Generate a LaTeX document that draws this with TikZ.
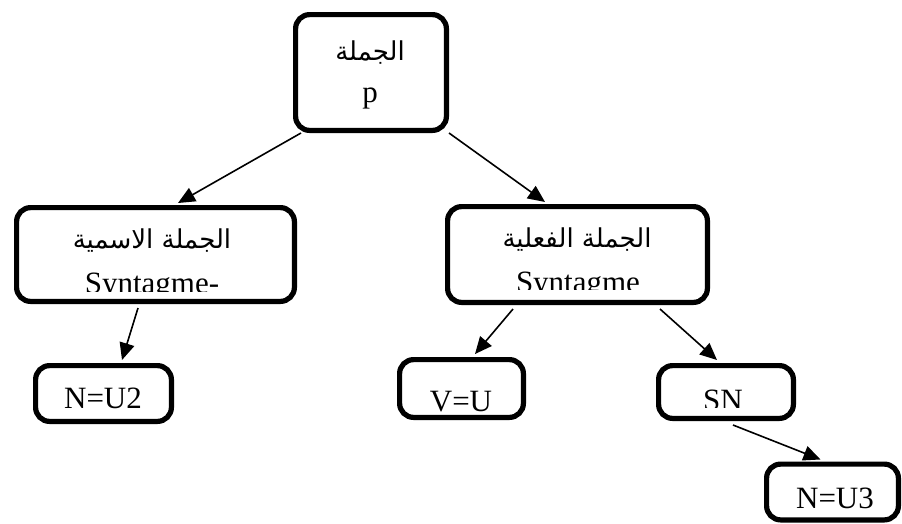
\documentclass[tikz,border=0pt]{standalone}
\usepackage{fontspec}
\setmainfont{Liberation Serif}
\newfontfamily\arabicfont[Script=Arabic]{DejaVu Sans}
\TeXXeTstate=1
\usetikzlibrary{arrows.meta}

\begin{document}
\begin{tikzpicture}[x=1pt,y=-1pt,
  box/.style={draw, line width=5.2pt, rounded corners=14pt, inner sep=0pt},
  lbl/.style={font=\fontsize{31}{36}\selectfont, inner sep=0pt, anchor=base},
  ar/.style={font=\arabicfont\fontsize{26}{30}\selectfont, inner sep=0pt},
  link/.style={line width=1.6pt, -{Triangle[length=17pt,width=15pt]}}]
\useasboundingbox (0,0) rectangle (902,523);

% boxes
\node[box, minimum width=150.8, minimum height=115.8] (p)  at (371,72.5)  {};
\node[box, minimum width=277.8, minimum height=93.8]  (sa) at (155.5,254.5) {};
\node[box, minimum width=259.8, minimum height=95.8]  (sf) at (577.5,254.5) {};
\node[box, minimum width=135.8, minimum height=55.8]  (n2) at (103.5,393.5) {};
\node[box, minimum width=123.8, minimum height=57.8]  (v)  at (461.5,388.5) {};
\node[box, minimum width=134.8, minimum height=52.8]  (sn) at (726,392)   {};
\node[box, minimum width=131.8, minimum height=55.8]  (n3) at (832.5,492)   {};

% texts
\node[ar]  (tp1) at (370,53)  {\beginR الجملة\endR};
\node[lbl] (tp2) at (370,102) {p};

\node[ar]  (ta1) at (152,241) {\beginR الجملة الاسمية\endR};
\begin{scope}
  \clip (sa.north west) rectangle ([shift={(0,-13)}]sa.south east);
  \node[lbl] (ta2) at (152,293) {Syntagme-};
\end{scope}

\node[ar]  (tf1) at (577,240) {\beginR الجملة الفعلية\endR};
\begin{scope}
  \clip (sf.north west) rectangle ([shift={(0,-16)}]sf.south east);
  \node[lbl] (tf2) at (578,292) {Syntagme};
\end{scope}

\node[lbl] (tn2) at (103,408) {N=U2};
\node[lbl] (tv)  at (461,411) {V=U};
\begin{scope}
  \clip (sn.north west) rectangle ([shift={(0,-14)}]sn.south east);
  \node[lbl] (tsn) at (723,410) {SN};
\end{scope}
\node[lbl] (tn3) at (835,508) {N=U3};

% connectors
\draw[link] ([shift={(8,0)}]p.south west) -- ([shift={(22.5,-2)}]sa.north);
\draw[link] (p.south east) -- ([shift={(-32.5,-2)}]sf.north);
\draw[link] ([shift={(-17.5,4)}]sa.south) -- ([shift={(18.5,-3)}]n2.north);
\draw[link] ([shift={(-64.5,4)}]sf.south) -- ([shift={(13.5,-3)}]v.north);
\draw[link] ([shift={(82.5,4)}]sf.south) -- ([shift={(-9,-3)}]sn.north);
\draw[link] ([shift={(7,4)}]sn.south) -- ([shift={(-12,-2)}]n3.north);
\end{tikzpicture}
\end{document}
